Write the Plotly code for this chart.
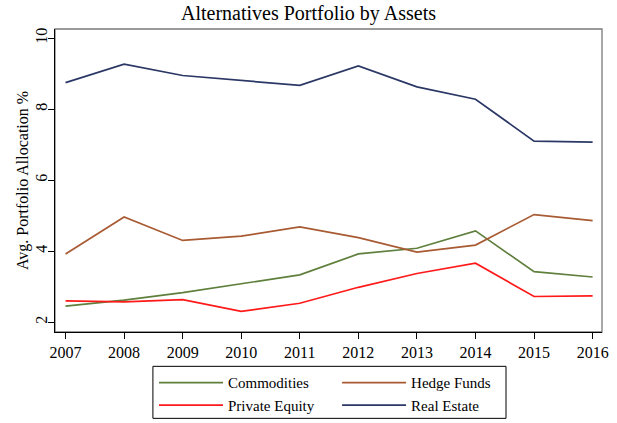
import plotly.graph_objects as go

years = [2007, 2008, 2009, 2010, 2011, 2012, 2013, 2014, 2015, 2016]
commodities = [2.45, 2.62, 2.83, 3.07, 3.33, 3.92, 4.08, 4.57, 3.42, 3.27]
hedge_funds = [3.92, 4.96, 4.30, 4.42, 4.68, 4.38, 3.97, 4.17, 5.03, 4.86]
private_equity = [2.60, 2.57, 2.63, 2.30, 2.53, 2.98, 3.37, 3.66, 2.72, 2.74]
real_estate = [8.75, 9.27, 8.95, 8.82, 8.67, 9.22, 8.63, 8.28, 7.10, 7.07]
y_ticks = [2, 4, 6, 8, 10]

series = [
    ("Commodities", commodities, "#5f7f3c", "legend"),
    ("Hedge Funds", hedge_funds, "#a85a32", "legend2"),
    ("Private Equity", private_equity, "#ff1a1a", "legend"),
    ("Real Estate", real_estate, "#2b3866", "legend2"),
]

fig = go.Figure()
for name, vals, col, leg in series:
    fig.add_trace(go.Scatter(x=years, y=vals, mode="lines", name=name,
                             legend=leg, line=dict(color=col, width=1.7)))

font = "Liberation Serif, Times New Roman, serif"
# plot-region frame
fig.add_shape(type="rect", xref="paper", yref="paper", x0=0, x1=1, y0=0, y1=1,
              line=dict(color="#7a7a7a", width=1.3), layer="below")
# legend box
fig.add_shape(type="rect", xref="paper", yref="paper", x0=0.179, x1=0.8245,
              y0=-0.285, y1=-0.1133, line=dict(color="black", width=1))

leg_common = dict(orientation="v", yanchor="top", y=-0.1133, xanchor="left",
                  borderwidth=0, bgcolor="rgba(0,0,0,0)", itemwidth=64,
                  font=dict(size=15, family=font), traceorder="normal",
                  tracegroupgap=0)
fig.update_layout(
    width=617, height=423,
    margin=dict(l=55, r=15, t=29, b=91, autoexpand=False),
    paper_bgcolor="white", plot_bgcolor="white",
    font=dict(family=font, size=16, color="black"),
    title=dict(text="Alternatives Portfolio by Assets", x=0.5, xanchor="center",
               y=0.985, yanchor="top", font=dict(size=20, family=font)),
    showlegend=True,
    legend=dict(x=0.181, **leg_common),
    legend2=dict(x=0.5157, **leg_common),
    xaxis=dict(range=[2006.82, 2016.16], tickmode="array", tickvals=years,
               ticks="outside", ticklen=6, tickcolor="black", automargin=False,
               showline=True, linecolor="black", linewidth=1.3, mirror=False,
               showgrid=False, zeroline=False),
    yaxis=dict(range=[1.72, 10.26], tickmode="array", tickvals=y_ticks,
               ticks="outside", ticklen=6, tickcolor="black", tickangle=-90,
               ticklabelstandoff=-6, automargin=False,
               showline=True, linecolor="black", linewidth=1.3, mirror=False,
               showgrid=False, zeroline=False,
               title=dict(text="Avg. Portfolio Allocation %", standoff=0,
                          font=dict(size=16, family=font))),
)

fig.write_html("out.html", config={"displayModeBar": False},
               post_script="document.body.style.margin='0';"
                           "document.body.style.overflow='hidden';")
